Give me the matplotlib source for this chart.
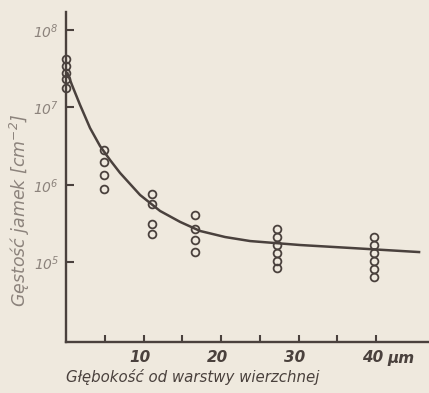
import matplotlib
matplotlib.use("Agg")
import matplotlib.pyplot as plt
import matplotlib.transforms as mtransforms
import numpy as np

# depth positions of measurement clusters (µm)
depth_0 = [0.0] * 5
dens_0 = [4.2e7, 3.4e7, 2.8e7, 2.3e7, 1.8e7]
depth_1 = [4.9] * 4
dens_1 = [2.83e6, 1.98e6, 1.35e6, 8.9e5]
depth_2 = [11.1] * 4
dens_2 = [7.7e5, 5.7e5, 3.1e5, 2.3e5]
depth_3 = [16.6] * 4
dens_3 = [4.1e5, 2.7e5, 1.95e5, 1.36e5]
depth_4 = [27.2] * 6
dens_4 = [2.7e5, 2.13e5, 1.68e5, 1.33e5, 1.05e5, 8.5e4]
depth_5 = [39.7] * 6
dens_5 = [2.13e5, 1.68e5, 1.33e5, 1.05e5, 8.2e4, 6.5e4]

# fitted curve
curve_x = [0.13, 0.77, 1.81, 3.10, 4.39, 5.68, 6.97, 9.55, 12.13, 14.71,
           17.29, 20.52, 23.74, 30.19, 36.65, 45.68]
curve_y = [2.87e7, 1.95e7, 1.08e7, 5.43e6, 3.18e6, 2.10e6, 1.43e6, 7.43e5,
           4.62e5, 3.34e5, 2.55e5, 2.13e5, 1.89e5, 1.68e5, 1.54e5, 1.36e5]

xticks_major = [10, 20, 30, 40]
xtick_labels = ["10", "20", "30", "40"]
xticks_minor = [5, 15, 25, 35]
yticks = [1e5, 1e6, 1e7, 1e8]
ytick_labels = [r"$10^{5}$", r"$10^{6}$", r"$10^{7}$", r"$10^{8}$"]

BG = "#efe9de"
INK = "#4a413d"
GRAY = "#8c837c"
FONT = ["Liberation Sans Narrow", "DejaVu Sans"]

plt.rcParams["font.family"] = FONT
plt.rcParams["mathtext.fontset"] = "custom"
plt.rcParams["mathtext.rm"] = "Liberation Sans Narrow:italic"
plt.rcParams["mathtext.it"] = "Liberation Sans Narrow:italic"
plt.rcParams["mathtext.default"] = "it"

fig = plt.figure(figsize=(4.29, 3.93), dpi=100, facecolor=BG)
ax = fig.add_axes([66 / 429, 51 / 393, 1 - 66 / 429, 330 / 393])
ax.set_facecolor(BG)
ax.set_yscale("log")
ax.set_xlim(0, 46.8)
ax.set_ylim(10 ** 3.974, 10 ** 8.232)

for s in ["top", "right"]:
    ax.spines[s].set_visible(False)
for s in ["left", "bottom"]:
    ax.spines[s].set_color(INK)
    ax.spines[s].set_linewidth(1.7)

ax.plot(curve_x, curve_y, color=INK, lw=1.8, solid_capstyle="butt", zorder=3)

for xs, ys in [(depth_0, dens_0), (depth_1, dens_1), (depth_2, dens_2),
               (depth_3, dens_3), (depth_4, dens_4), (depth_5, dens_5)]:
    ax.plot(xs, ys, linestyle="none", marker="o", ms=5.6, mfc="none",
            mec=INK, mew=1.3, clip_on=False, zorder=4)

ax.set_xticks(xticks_major)
ax.set_xticklabels(xtick_labels, fontsize=11, fontstyle="italic",
                   fontweight="bold", color=INK)
ax.set_xticks(xticks_minor, minor=True)
ax.tick_params(axis="x", which="both", direction="in", length=5, width=1.5,
               color=INK, pad=6)
shift = mtransforms.ScaledTranslation(-4 / 100, 0, fig.dpi_scale_trans)
for lbl in ax.get_xticklabels():
    lbl.set_transform(lbl.get_transform() + shift)

ax.set_yticks(yticks)
ax.set_yticklabels(ytick_labels, fontsize=10, color=GRAY)
ax.yaxis.set_minor_locator(matplotlib.ticker.NullLocator())
ax.tick_params(axis="y", which="major", direction="in", length=6, width=1.5,
               color=INK, pad=5)

ax.text(41.4, -21 / 330, "µm", transform=ax.get_xaxis_transform(), fontsize=11,
        fontstyle="italic", fontweight="bold", color=INK, ha="left",
        va="baseline")

fig.text(66 / 429, 1 - 382 / 393, "Głębokość od warstwy wierzchnej",
         fontsize=10.8, fontstyle="italic", color=INK, ha="left",
         va="baseline")
fig.text(20 / 429, 1 - 210 / 393, r"Gęstość jamek [cm$^{-2}$]", rotation=90,
         fontsize=12.5, fontstyle="italic", color=GRAY, ha="center",
         va="center")

fig.savefig("out.png", dpi=100, facecolor=BG)
